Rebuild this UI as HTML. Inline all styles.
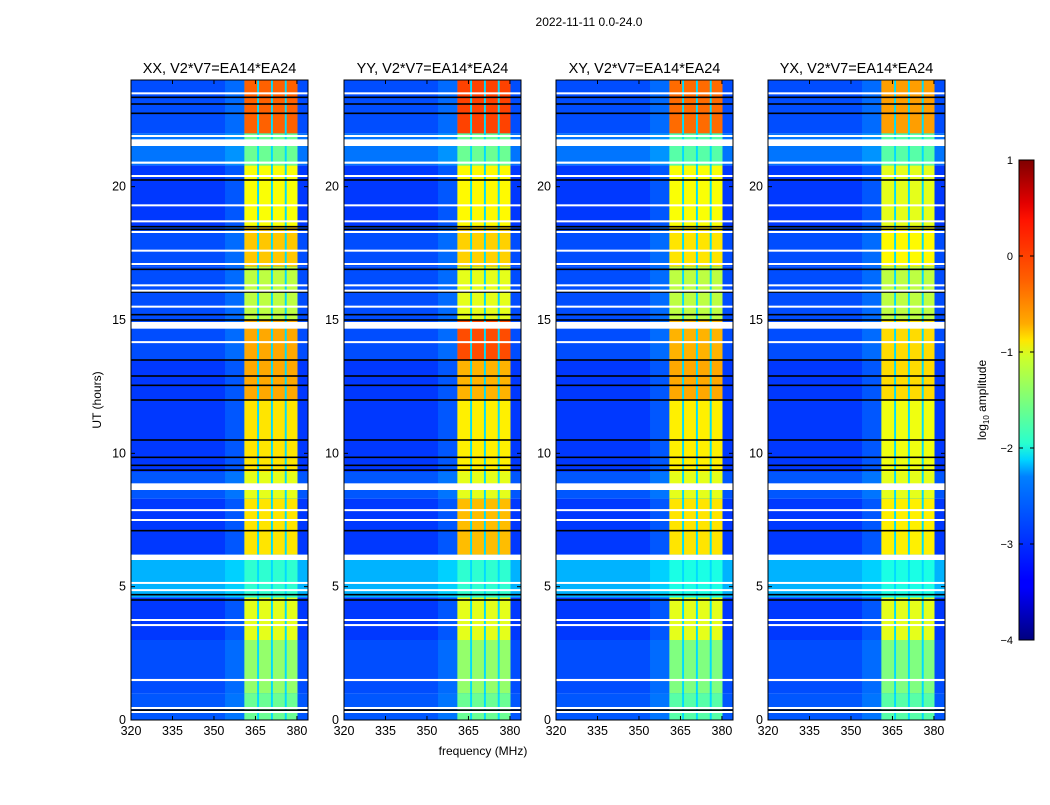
<!DOCTYPE html>
<html><head><meta charset="utf-8">
<style>
body{margin:0;background:#fff;}
svg text{font-family:"Liberation Sans","DejaVu Sans",sans-serif;fill:#000;}
</style></head>
<body>
<svg id="fig" width="1050" height="800" viewBox="0 0 1050 800" xmlns="http://www.w3.org/2000/svg">
<rect width="1050" height="800" fill="#fff"/>
<text x="589" y="26" font-size="12" text-anchor="middle">2022-11-11 0.0-24.0</text>
<text x="0" y="0" font-size="12" text-anchor="middle" transform="translate(101,400) rotate(-90)">UT (hours)</text>
<text x="483" y="755" font-size="12" text-anchor="middle">frequency (MHz)</text>
<defs>
<linearGradient id="jet" x1="0" y1="1" x2="0" y2="0">
<stop offset="0" stop-color="#00007f"/><stop offset="0.11" stop-color="#0000ff"/><stop offset="0.125" stop-color="#0000ff"/>
<stop offset="0.34" stop-color="#0080ff"/><stop offset="0.375" stop-color="#00d4ff"/><stop offset="0.41" stop-color="#29ffce"/>
<stop offset="0.5" stop-color="#7dff7a"/><stop offset="0.59" stop-color="#ceff29"/><stop offset="0.625" stop-color="#ffe600"/>
<stop offset="0.66" stop-color="#ffaa00"/><stop offset="0.75" stop-color="#ff6000"/><stop offset="0.875" stop-color="#ff1300"/>
<stop offset="0.91" stop-color="#e30000"/><stop offset="1" stop-color="#7f0000"/>
</linearGradient>
</defs>
<g id="panels"></g>
<g id="cbar">
<rect x="1019" y="160" width="15" height="480" fill="url(#jet)" stroke="#000" stroke-width="1"/>
</g>
<text font-size="12" text-anchor="middle" transform="translate(986,400) rotate(-90)">log<tspan font-size="8" dy="3">10</tspan><tspan dy="-3"> amplitude</tspan></text>
</svg>
<script>
const panelTitles = ["XX, V2*V7=EA14*EA24","YY, V2*V7=EA14*EA24","XY, V2*V7=EA14*EA24","YX, V2*V7=EA14*EA24"];
const segEdges = [0,1,3,4.6,6.2,8.3,9.3,12,13.5,15,17,18.5,20.8,22,24];
const bgLevels = [-2.95,-3.0,-3.1,-2.5,-3.1,-2.95,-3.1,-3.1,-3.0,-3.0,-3.0,-3.1,-2.8,-3.0];
const bandXX = [-1.6,-1.4,-1.0,-1.9,-0.75,-1.0,-0.75,-0.45,-0.45,-1.2,-0.6,-0.9,-1.6,-0.1];
const bandYY = [-1.6,-1.4,-1.0,-1.9,-0.55,-1.0,-0.8,-0.5,0.0,-1.0,-0.65,-0.85,-1.6,0.05];
const bandXY = [-1.7,-1.5,-1.0,-2.0,-0.75,-1.0,-0.8,-0.45,-0.5,-1.2,-0.75,-0.9,-1.7,-0.15];
const bandYX = [-1.7,-1.5,-1.0,-2.0,-0.8,-1.0,-0.95,-0.7,-0.7,-1.2,-0.85,-1.0,-1.7,-0.4];
const subBands = [[361,365.6],[366.3,370.6],[371.3,375.6],[376.3,380.2]];
const whiteLines = [[0.3,0.06],[0.45,0.06],[1.5,0.08],[3.56,0.06],[3.75,0.06],[4.87,0.06],[5.14,0.06],[6.1,0.2],[7.5,0.06],[7.87,0.06],[8.75,0.25],[14.17,0.06],[14.8,0.25],[15.5,0.06],[16.1,0.06],[16.3,0.06],[17.1,0.06],[17.6,0.06],[18.3,0.06],[18.7,0.06],[19.3,0.06],[20.4,0.06],[20.9,0.08],[21.65,0.25],[21.9,0.06],[23.5,0.06]];
const blackLines = [0.37,4.5,4.7,7.1,9.37,9.55,9.85,10.5,12,12.55,12.9,13.5,15,15.2,16.05,16.9,18.4,18.5,20.25,22.75,23.1,23.35];
const xTicks = [320,335,350,365,380];
const yTicks = [0,5,10,15,20];
const cbTicks = [1,0,-1,-2,-3,-4];
const panelLefts = [131,344,556,768];
const bands = [bandXX,bandYY,bandXY,bandYX];

const NS="http://www.w3.org/2000/svg";
const PW=177, TOP=80, BOT=720, FMIN=320, FMAX=384, TMAX=24;
function xs(f,l){return l+(f-FMIN)/(FMAX-FMIN)*PW;}
function ys(t){return BOT-t/TMAX*(BOT-TOP);}
function jet(v){
  let n=(v+4)/5; n=Math.max(0,Math.min(1,n));
  const r=Math.max(0,Math.min(1,1.5-Math.abs(4*n-3)));
  const g=Math.max(0,Math.min(1,1.5-Math.abs(4*n-2)));
  const b=Math.max(0,Math.min(1,1.5-Math.abs(4*n-1)));
  return `rgb(${Math.round(r*255)},${Math.round(g*255)},${Math.round(b*255)})`;
}
function mk(tag,attrs,parent){const e=document.createElementNS(NS,tag);for(const k in attrs)e.setAttribute(k,attrs[k]);parent.appendChild(e);return e;}
const root=document.getElementById('panels');
panelLefts.forEach((L,p)=>{
  const g=mk('g',{},root);
  
  
  for(let i=0;i<segEdges.length-1;i++){
    const y1=ys(segEdges[i+1]), y2=ys(segEdges[i]);
    const r=mk('rect',{x:L,y:y1,width:PW,height:y2-y1,fill:jet(bgLevels[i])},g);
    
    
    const r2=mk('rect',{x:xs(354,L),y:y1,width:xs(361,L)-xs(354,L),height:y2-y1,fill:jet(bgLevels[i]+0.3),opacity:0.5},g);
    
    
    const r3=mk('rect',{x:xs(361,L),y:y1,width:xs(380.2,L)-xs(361,L),height:y2-y1,fill:jet(-2.3)},g);
    
    
    subBands.forEach(sb=>{
      const c=mk('rect',{x:xs(sb[0],L),y:y1,width:xs(sb[1],L)-xs(sb[0],L),height:y2-y1,fill:jet(bands[p][i])},g);
      
      
    });
  }
  blackLines.forEach(t=>{
    const l=mk('rect',{x:L,y:ys(t)-0.8,width:PW,height:1.6,fill:'#000'},g);
    
    
  });
  whiteLines.forEach(w=>{
    const h=Math.max(2,w[1]/TMAX*(BOT-TOP));
    const l=mk('rect',{x:L,y:ys(w[0])-h/2,width:PW,height:h,fill:'#fff'},g);
    
    
  });
  const fr=mk('rect',{x:L,y:TOP,width:PW,height:BOT-TOP,fill:'none',stroke:'#000','stroke-width':1},g);
  
  
  const tt=mk('text',{x:L+PW/2,y:73,'font-size':14.5,'text-anchor':'middle'},g);
  tt.textContent=panelTitles[p];
  
  
  xTicks.forEach(f=>{
    const x=xs(f,L);
    mk('line',{x1:x,x2:x,y1:BOT,y2:BOT-4,stroke:'#000'},g);
    mk('line',{x1:x,x2:x,y1:TOP,y2:TOP+4,stroke:'#000'},g);
    const t=mk('text',{x:x,y:BOT+15,'font-size':12.5,'text-anchor':'middle'},g);
    t.textContent=f;
    
    
  });
  yTicks.forEach(v=>{
    const y=ys(v);
    mk('line',{x1:L,x2:L+4,y1:y,y2:y,stroke:'#000'},g);
    mk('line',{x1:L+PW,x2:L+PW-4,y1:y,y2:y,stroke:'#000'},g);
    const t=mk('text',{x:L-5,y:y+4,'font-size':12.5,'text-anchor':'end'},g);
    t.textContent=v;
    
    
  });
});
const cb=document.getElementById('cbar');
cbTicks.forEach(v=>{
  const y=160+(1-v)/5*480;
  mk('line',{x1:1019,x2:1023,y1:y,y2:y,stroke:'#000'},cb);
  mk('line',{x1:1034,x2:1030,y1:y,y2:y,stroke:'#000'},cb);
  const t=mk('text',{x:1013,y:y+4,'font-size':11,'text-anchor':'end'},cb);
  t.textContent=v<0?'\u2212'+Math.abs(v):String(v);
  
  
});
</script>
</body></html>
